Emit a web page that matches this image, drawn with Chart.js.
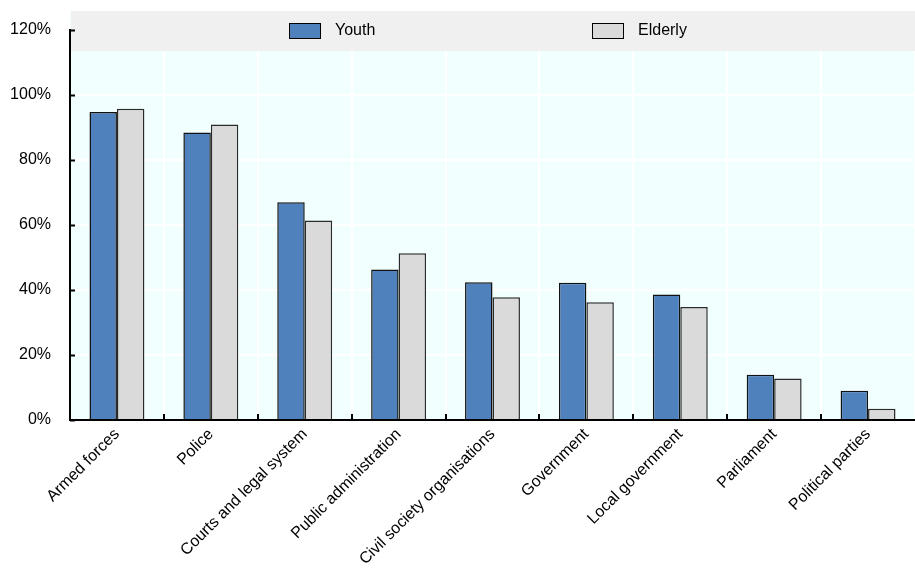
<!DOCTYPE html>
<html>
<head>
<meta charset="utf-8">
<script src="https://cdn.jsdelivr.net/npm/chart.js@4/dist/chart.umd.min.js"></script>
<style>
  body { margin: 0; background: #fff; }
  #wrap { width: 915px; height: 568px; }
</style>
</head>
<body>
<div id="wrap"><canvas id="barchart" width="915" height="568"></canvas></div>
<script>
// Categories and values (percent)
const categories = ['Armed forces', 'Police', 'Courts and legal system', 'Public administration',
  'Civil society organisations', 'Government', 'Local government', 'Parliament', 'Political parties'];
const youth = [94.8, 88.5, 67.0, 46.3, 42.4, 42.2, 38.6, 13.9, 9.0];
const elderly = [95.8, 90.9, 61.4, 51.3, 37.8, 36.2, 34.8, 12.8, 3.5];
const seriesNames = ['Youth', 'Elderly'];
const yTicks = [0, 20, 40, 60, 80, 100, 120];

const FONT = 'Arial, "Liberation Sans", sans-serif';
const blue = '#4f81bd';
const grey = '#dadada';

// background panel + grey legend band + inward tick marks
const decor = {
  id: 'decor',
  beforeDraw(chart) {
    const { ctx, chartArea } = chart;
    ctx.save();
    ctx.fillStyle = '#f2ffff';
    ctx.fillRect(chartArea.left, 11, chartArea.right - chartArea.left, chartArea.bottom - 11);
    ctx.restore();
  },
  beforeDatasetsDraw(chart) {
    const { ctx, chartArea } = chart;
    ctx.save();
    ctx.fillStyle = '#f0f0f0';
    ctx.fillRect(chartArea.left + 1, 11, chartArea.right - chartArea.left, 40);
    // legend
    const items = [
      { label: seriesNames[0], color: blue, x: 289 },
      { label: seriesNames[1], color: grey, x: 592 }
    ];
    ctx.font = '16px ' + FONT;
    ctx.textBaseline = 'middle';
    items.forEach(it => {
      ctx.fillStyle = it.color;
      ctx.fillRect(it.x, 23, 31, 15);
      ctx.strokeStyle = '#000';
      ctx.lineWidth = 1;
      ctx.strokeRect(it.x + 0.5, 23.5, 31, 15);
      ctx.fillStyle = '#000';
      ctx.fillText(it.label, it.x + 46, 31);
    });
    ctx.restore();
  },
  afterDraw(chart) {
    const { ctx, chartArea, scales } = chart;
    ctx.save();
    ctx.strokeStyle = '#000';
    ctx.lineWidth = 2;
    yTicks.forEach(v => {
      const y = Math.round(scales.y.getPixelForValue(v)) + 0.5;
      ctx.beginPath();
      ctx.moveTo(chartArea.left, y);
      ctx.lineTo(chartArea.left + 5, y);
      ctx.stroke();
    });
    for (let i = 0; i < categories.length - 1; i++) {
      const x = Math.round((scales.x.getPixelForTick(i) + scales.x.getPixelForTick(i + 1)) / 2);
      ctx.beginPath();
      ctx.moveTo(x, chartArea.bottom);
      ctx.lineTo(x, chartArea.bottom - 6);
      ctx.stroke();
    }
    ctx.restore();
  }
};

const ctx = document.getElementById('barchart').getContext('2d');
new Chart(ctx, {
  type: 'bar',
  data: {
    labels: categories,
    datasets: [{
      label: seriesNames[0],
      data: youth,
      backgroundColor: blue,
      borderColor: '#111111',
      borderWidth: 1.5
    }, {
      label: seriesNames[1],
      data: elderly,
      backgroundColor: grey,
      borderColor: '#2a2a2a',
      borderWidth: 1.5
    }]
  },
  options: {
    responsive: false,
    animation: false,
    layout: { padding: { top: 30, left: 0, right: 0, bottom: 0 } },
    datasets: { bar: { categoryPercentage: 0.585, barPercentage: 1 } },
    plugins: { legend: { display: false }, tooltip: { enabled: false } },
    scales: {
      x: {
        grid: { color: '#ffffff', lineWidth: 2, drawTicks: false, offset: true },
        border: { color: '#000', width: 2 },
        ticks: {
          color: '#000',
          font: { family: FONT, size: 16 },
          minRotation: 45,
          maxRotation: 45,
          autoSkip: false,
          padding: 5
        },
        afterFit(s) { s.height = 148; s.paddingLeft = 0; s.paddingRight = 0; }
      },
      y: {
        min: 0,
        max: 120,
        grid: { color: '#ffffff', lineWidth: 2, drawTicks: false },
        border: { color: '#000', width: 2 },
        ticks: {
          stepSize: 20,
          color: '#000',
          font: { family: FONT, size: 16 },
          padding: 19,
          callback: v => v + '%'
        },
        afterFit(s) { s.width = 70; }
      }
    }
  },
  plugins: [decor]
});
</script>
</body>
</html>
